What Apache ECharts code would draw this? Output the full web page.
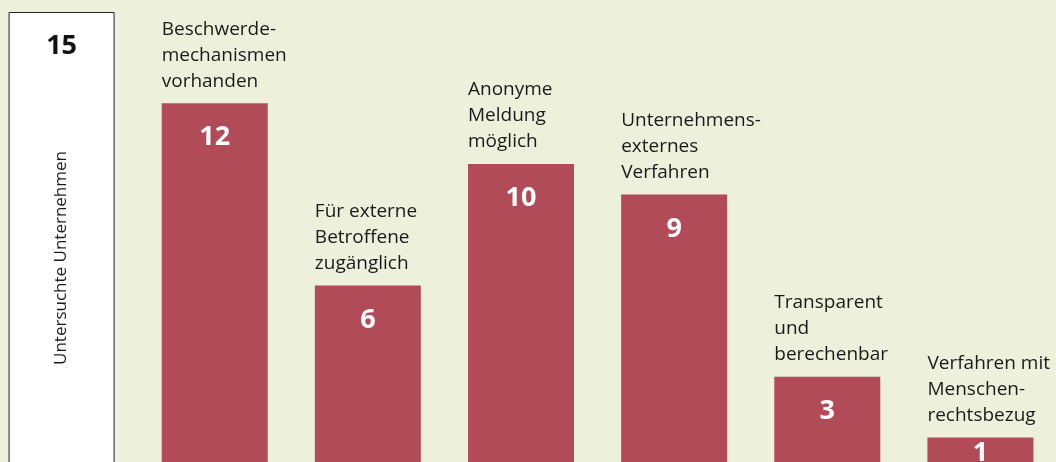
<!DOCTYPE html>
<html>
<head>
<meta charset="utf-8">
<script src="https://cdn.jsdelivr.net/npm/echarts@6/dist/echarts.min.js"></script>
<style>
html,body{margin:0;padding:0;background:#edf1dc;overflow:hidden;width:1056px;height:462px;position:relative;}
#c{position:absolute;left:-15px;top:0;width:1072px;height:468px;}
</style>
</head>
<body>
<div id="c"></div>
<script>
const categories = [
  "Untersuchte Unternehmen",
  "Beschwerde-\nmechanismen\nvorhanden",
  "Für externe\nBetroffene\nzugänglich",
  "Anonyme\nMeldung\nmöglich",
  "Unternehmens-\nexternes\nVerfahren",
  "Transparent\nund\nberechenbar",
  "Verfahren mit\nMenschen-\nrechtsbezug"
];
const values = [15, 12, 6, 10, 9, 3, 1];

const FONT = '"Open Sans", "Noto Sans", sans-serif';
const BAR = '#b04b57';

const chart = echarts.init(document.getElementById('c'), null, {renderer: 'canvas'});

const mainData = values.map((v, i) => {
  if (i === 0) return {
    value: v,
    itemStyle: {color: '#ffffff', borderColor: '#222222', borderWidth: 1},
    label: {color: '#111111'}
  };
  if (v < 2) return {value: v, label: {distance: 2}};
  return {value: v};
});

const labelData = values.map((v, i) => i === 0 ? {
  value: v,
  label: {
    show: true, formatter: categories[0], rotate: 90,
    position: [53, 246], align: 'center', verticalAlign: 'middle',
    fontSize: 17, lineHeight: 20, color: '#1a1a1a'
  }
} : {value: v});

chart.setOption({
  backgroundColor: '#edf1dc',
  animation: false,
  grid: {left: 0, right: 0, top: 12, bottom: 0, containLabel: false},
  xAxis: {type: 'category', data: categories, show: false},
  yAxis: {type: 'value', min: 0, max: 15, show: false},
  series: [
    {
      type: 'bar',
      data: mainData,
      barWidth: 106,
      itemStyle: {color: BAR},
      label: {
        show: true, position: 'insideTop', distance: 21,
        fontFamily: FONT, fontWeight: 'bold', fontSize: 27, color: '#ffffff'
      }
    },
    {
      type: 'bar',
      data: labelData,
      barWidth: 106,
      barGap: '-100%',
      itemStyle: {color: 'rgba(0,0,0,0)'},
      label: {
        show: true,
        position: [0, -9],
        align: 'left', verticalAlign: 'bottom',
        formatter: p => categories[p.dataIndex],
        fontFamily: FONT, fontSize: 19, lineHeight: 26, color: '#1a1a1a'
      }
    }
  ]
});
</script>
</body>
</html>
